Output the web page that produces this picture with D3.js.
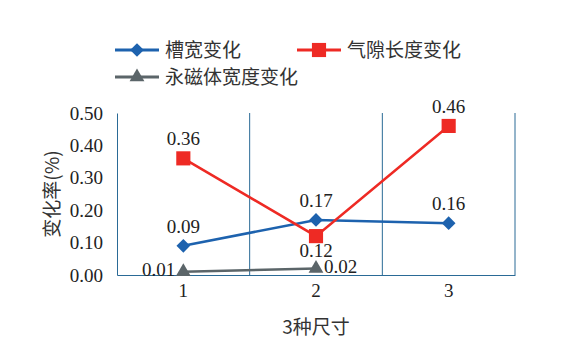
<!DOCTYPE html>
<html>
<head>
<meta charset="utf-8">
<script src="https://cdn.jsdelivr.net/npm/d3@7"></script>
<style>
  body { margin: 0; background: #fff; }
  svg { display: block; }
  .num { font-family: "Liberation Serif", "Times New Roman", Times, serif; }
  .cjk { font-family: "Noto Sans CJK SC", sans-serif; }
</style>
</head>
<body>
<div id="chart"></div>
<script>
// data
const categories = ["1", "2", "3"];
const slotWidth = [0.09, 0.17, 0.16];
const airGap = [0.36, 0.12, 0.46];
const magnetWidth = [0.01, 0.02, null];
const yTicks = [0, 0.1, 0.2, 0.3, 0.4, 0.5];

const series = [
    { name: "槽宽变化", values: slotWidth, color: "#1d62ae", marker: "diamond", labelPos: ["above", "above", "above"] },
    { name: "气隙长度变化", values: airGap, color: "#ee2a24", marker: "square", labelPos: ["above", "below", "above"] },
    { name: "永磁体宽度变化", values: magnetWidth, color: "#5b6569", marker: "triangle", labelPos: ["left", "right", "right"] }
];

const width = 574, height = 353;
const margin = { top: 113, right: 59, bottom: 78, left: 117 };
const axisColor = "#2a6a96";

const svg = d3.select("#chart").append("svg")
    .attr("width", width)
    .attr("height", height);

const x = d3.scaleBand()
    .domain(categories)
    .range([margin.left, width - margin.right]);

const y = d3.scaleLinear()
    .domain([0, 0.5])
    .range([height - margin.bottom, margin.top]);

// vertical separators after each category
svg.append("g")
    .selectAll("line")
    .data(categories)
    .join("line")
        .attr("x1", d => x(d) + x.bandwidth())
        .attr("x2", d => x(d) + x.bandwidth())
        .attr("y1", y(0.5))
        .attr("y2", y(0))
        .attr("stroke", axisColor)
        .attr("stroke-width", 1);

// axes
const yAxis = svg.append("g")
    .attr("transform", `translate(${margin.left},0)`)
    .call(d3.axisLeft(y).tickValues(yTicks).tickFormat(d3.format(".2f")).tickSize(0).tickPadding(14))
    .attr("font-family", null);
yAxis.select(".domain").attr("stroke", axisColor);
yAxis.selectAll("text").attr("class", "num").attr("font-size", 19).attr("fill", "#222");

const xAxis = svg.append("g")
    .attr("transform", `translate(0,${y(0)})`)
    .call(d3.axisBottom(x).tickSize(0).tickPadding(9))
    .attr("font-family", null);
xAxis.select(".domain").attr("stroke", axisColor);
xAxis.selectAll("text").attr("class", "num").attr("font-size", 19).attr("fill", "#222");

// axis titles
svg.append("text")
    .attr("class", "cjk")
    .attr("transform", `translate(59,${(y(0) + y(0.5)) / 2}) rotate(-90)`)
    .attr("text-anchor", "middle")
    .attr("font-size", 19)
    .attr("fill", "#333")
    .text("变化率(%)");

svg.append("text")
    .attr("class", "cjk")
    .attr("x", x("2") + x.bandwidth() / 2)
    .attr("y", 334)
    .attr("text-anchor", "middle")
    .attr("font-size", 19)
    .attr("fill", "#333")
    .text("3种尺寸");

const cx = i => x(categories[i]) + x.bandwidth() / 2;

const symbolOf = {
    diamond: d3.symbol().type(d3.symbolDiamond2).size(120),
    square: d3.symbol().type(d3.symbolSquare).size(200),
    triangle: d3.symbol().type(d3.symbolTriangle).size(95)
};

const line = d3.line()
    .defined(d => d != null)
    .x((d, i) => cx(i))
    .y(d => y(d));

series.forEach(s => {
    svg.append("path")
        .attr("d", line(s.values))
        .attr("fill", "none")
        .attr("stroke", s.color)
        .attr("stroke-width", 2.5);

    const pts = s.values.map((v, i) => ({ v, i })).filter(d => d.v != null);

    svg.append("g").selectAll("path")
        .data(pts)
        .join("path")
            .attr("d", symbolOf[s.marker]())
            .attr("transform", d => `translate(${cx(d.i)},${y(d.v)})`)
            .attr("fill", s.color);

    svg.append("g").selectAll("text")
        .data(pts)
        .join("text")
            .attr("class", "num")
            .attr("x", d => {
                const p = s.labelPos[d.i];
                if (p === "left") return cx(d.i) - 8;
                if (p === "right") return cx(d.i) + 8;
                return cx(d.i);
            })
            .attr("y", d => {
                const p = s.labelPos[d.i];
                if (p === "above") return y(d.v) - 13;
                if (p === "below") return y(d.v) + 21;
                return y(d.v) + 4;
            })
            .attr("text-anchor", d => {
                const p = s.labelPos[d.i];
                return p === "left" ? "end" : p === "right" ? "start" : "middle";
            })
            .attr("font-size", 19)
            .attr("fill", "#222")
            .text(d => d3.format(".2f")(d.v));
});

// legend
const legendPos = [[115, 50], [297, 50], [115, 77]];
series.forEach((s, i) => {
    const [lx, ly] = legendPos[i];
    const g = svg.append("g").attr("transform", `translate(${lx},${ly})`);
    g.append("line")
        .attr("x1", 0).attr("x2", 44)
        .attr("stroke", s.color)
        .attr("stroke-width", 3);
    g.append("path")
        .attr("d", symbolOf[s.marker]())
        .attr("transform", "translate(22,0)")
        .attr("fill", s.color);
    g.append("text")
        .attr("class", "cjk")
        .attr("x", 50)
        .attr("y", 7)
        .attr("font-size", 19)
        .attr("fill", "#333")
        .text(s.name);
});
</script>
</body>
</html>
